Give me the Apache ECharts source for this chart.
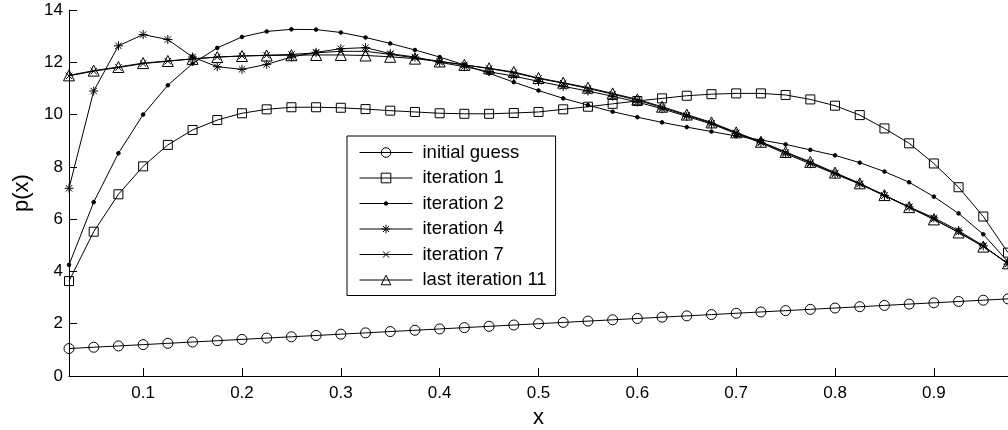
<!DOCTYPE html>
<html><head><meta charset="utf-8">
<script src="https://cdn.jsdelivr.net/npm/echarts@6/dist/echarts.min.js"></script>
<style>html,body{margin:0;padding:0;background:#fff}#c{width:1008px;height:430px}</style>
</head><body><div id="c"></div>
<script>
const xValues = [0.025,0.05,0.075,0.1,0.125,0.15,0.175,0.2,0.225,0.25,0.275,0.3,0.325,0.35,0.375,0.4,0.425,0.45,0.475,0.5,0.525,0.55,0.575,0.6,0.625,0.65,0.675,0.7,0.725,0.75,0.775,0.8,0.825,0.85,0.875,0.9,0.925,0.95,0.975];
const xTickValues = [0.1,0.2,0.3,0.4,0.5,0.6,0.7,0.8,0.9];
const xTickLabels = ['0.1','0.2','0.3','0.4','0.5','0.6','0.7','0.8','0.9'];
const seriesNames = ['initial guess','iteration 1','iteration 2','iteration 4','iteration 7','last iteration 11'];

const initialGuess = [1.05,1.10,1.15,1.20,1.25,1.30,1.35,1.40,1.45,1.50,1.55,1.60,1.65,1.70,1.75,1.80,1.85,1.90,1.95,2.00,2.05,2.10,2.15,2.20,2.25,2.30,2.35,2.40,2.45,2.50,2.55,2.60,2.65,2.70,2.75,2.80,2.85,2.90,2.95];
const iteration1 = [3.63,5.52,6.95,8.02,8.84,9.41,9.79,10.05,10.2,10.28,10.28,10.26,10.21,10.15,10.1,10.05,10.03,10.03,10.06,10.1,10.2,10.3,10.41,10.52,10.62,10.72,10.78,10.81,10.81,10.75,10.58,10.34,9.98,9.47,8.9,8.13,7.22,6.1,4.72];
const iteration2 = [4.25,6.65,8.52,10.0,11.12,11.95,12.55,12.97,13.18,13.26,13.25,13.14,12.95,12.72,12.47,12.2,11.9,11.58,11.24,10.92,10.62,10.36,10.11,9.9,9.7,9.52,9.35,9.18,9.03,8.86,8.65,8.44,8.16,7.82,7.41,6.86,6.22,5.42,4.37];
const iteration4 = [7.18,10.9,12.63,13.06,12.87,12.2,11.83,11.73,11.92,12.2,12.38,12.52,12.56,12.33,12.2,12.0,11.83,11.64,11.47,11.27,11.08,10.9,10.7,10.48,10.22,9.93,9.64,9.27,8.92,8.5,8.12,7.73,7.34,6.9,6.47,6.05,5.56,4.98,4.28];
const iteration7 = [11.48,11.66,11.8,11.95,12.04,12.13,12.2,12.24,12.27,12.3,12.36,12.42,12.42,12.3,12.17,12.04,11.9,11.76,11.6,11.38,11.2,11.0,10.78,10.55,10.27,9.97,9.67,9.3,8.94,8.55,8.16,7.75,7.35,6.9,6.45,6.0,5.5,4.96,4.3];
const iteration11 = [11.5,11.68,11.82,11.97,12.05,12.13,12.2,12.24,12.26,12.27,12.28,12.28,12.26,12.21,12.14,12.03,11.9,11.77,11.63,11.4,11.22,11.03,10.81,10.58,10.3,10.0,9.7,9.32,8.96,8.57,8.19,7.78,7.37,6.92,6.46,5.99,5.49,4.95,4.31];

const FONT = 'Liberation Sans';
const symCircle = 'circle';
const symSquare = 'rect';
const symDot = 'path://M0,0M10,10M3.2,5A1.8,1.8,0,1,0,6.8,5A1.8,1.8,0,1,0,3.2,5Z';
const symStar = 'path://M0,0M10,10M5,0.5L5,9.5M0.5,5L9.5,5M1.8,1.8L8.2,8.2M8.2,1.8L1.8,8.2';
const symX = 'path://M0,0M10,10M1.8,1.8L8.2,8.2M8.2,1.8L1.8,8.2';
const symTri = 'triangle';

function pairs(ys) { return xValues.map((x, i) => [x, ys[i]]); }

function mk(name, ys, symbol, size, fill) {
  return {
    name, type: 'line', data: pairs(ys), symbol, symbolSize: size,
    showAllSymbol: true, clip: false,
    lineStyle: { color: '#000', width: 1 },
    itemStyle: { color: fill, borderColor: '#000', borderWidth: 1 },
    emphasis: { disabled: true }, silent: true
  };
}

const chart = echarts.init(document.getElementById('c'), null, { renderer: 'canvas' });
chart.setOption({
  animation: false,
  backgroundColor: '#fff',
  grid: { left: 69, right: 0, top: 10, bottom: 54, containLabel: false, outerBoundsMode: 'none' },
  xAxis: {
    type: 'value', min: 0.025, max: 0.975,
    axisLine: { show: true, lineStyle: { color: '#000', width: 1 } },
    axisTick: { show: true, inside: true, length: 8, customValues: xTickValues, lineStyle: { color: '#000' } },
    axisLabel: { customValues: xTickValues, formatter: v => { const i = xTickValues.findIndex(t => Math.abs(t - v) < 1e-9); return i >= 0 ? xTickLabels[i] : ''; }, fontSize: 17, color: '#000', margin: 9, fontFamily: FONT },
    splitLine: { show: false },
    name: 'x', nameLocation: 'middle', nameGap: 27,
    nameTextStyle: { fontSize: 22, color: '#000', fontFamily: FONT }
  },
  yAxis: {
    type: 'value', min: 0, max: 14, interval: 2,
    axisLine: { show: true, lineStyle: { color: '#000', width: 1 } },
    axisTick: { show: true, inside: true, length: 8, lineStyle: { color: '#000' } },
    axisLabel: { fontSize: 17, color: '#000', margin: 6, fontFamily: FONT },
    splitLine: { show: false },
    name: 'p(x)', nameLocation: 'middle', nameGap: 35, nameRotate: 90,
    nameTextStyle: { fontSize: 22, color: '#000', fontFamily: FONT }
  },
  legend: {
    orient: 'vertical', left: 347, top: 136,
    itemWidth: 53, itemHeight: 12, itemGap: 6.5,
    padding: [7, 9, 6, 12],
    borderColor: '#000', borderWidth: 1, backgroundColor: '#fff',
    selectedMode: false,
    lineStyle: { width: 1, color: '#000' },
    itemStyle: { borderWidth: 1, borderColor: '#000' },
    textStyle: { fontSize: 18.5, color: '#000', fontFamily: FONT, padding: [0, 0, 0, 5] },
    data: seriesNames
  },
  series: [
    mk(seriesNames[0], initialGuess, symCircle, 10, 'transparent'),
    mk(seriesNames[1], iteration1, symSquare, 9, 'transparent'),
    mk(seriesNames[2], iteration2, symDot, 10, '#000'),
    mk(seriesNames[3], iteration4, symStar, 10, '#000'),
    mk(seriesNames[4], iteration7, symX, 10, '#000'),
    mk(seriesNames[5], iteration11, symTri, 11, 'transparent')
  ]
});
</script>
</body></html>
